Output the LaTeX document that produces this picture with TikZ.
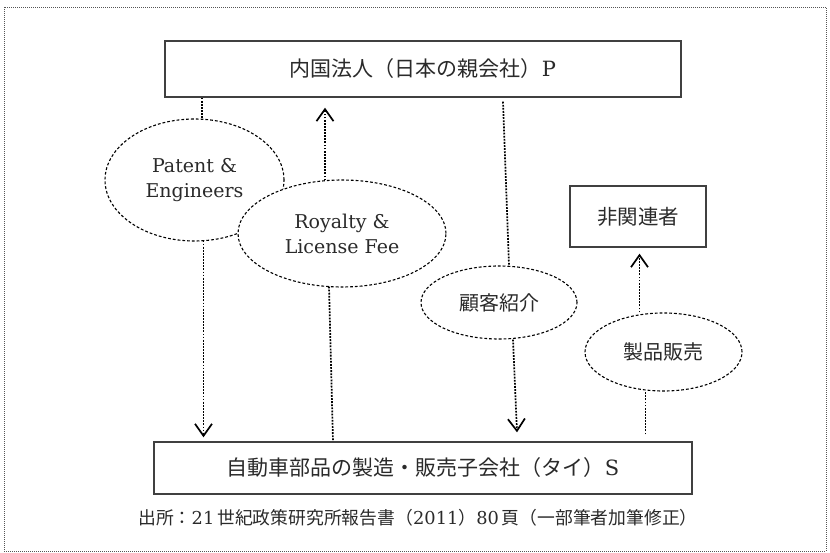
\documentclass[tikz,border=0pt]{standalone}
\usepackage{fontspec}
\setmainfont{DejaVu Serif}
\newfontfamily\cjk{Noto Sans CJK JP}
\usetikzlibrary{arrows.meta,calc,shapes.geometric}
\definecolor{ink}{HTML}{2A2A2A}
\definecolor{boxline}{HTML}{404040}
\tikzset{
  box/.style={draw=boxline,line width=1.4pt,fill=white,inner sep=0pt,text=ink,
    font=\fontsize{21}{24}\selectfont},
  bubble/.style={ellipse,draw=black,line width=1.1pt,dash pattern=on 2.8pt off 2pt,
    fill=white,inner sep=0pt,text=ink,align=center,font=\fontsize{19}{25}\selectfont},
  conn/.style={draw=black,line width=1.7pt,dash pattern=on 1.8pt off 1.3pt},
  tip/.style={-{Straight Barb[length=12pt,width=17pt,line width=1.7pt]}},
  frame/.style={draw=ink!80,line width=0.7pt,dash pattern=on 1pt off 1pt}
}
\begin{document}
\begin{tikzpicture}[x=1pt,y=-1pt]
\useasboundingbox (0,0) rectangle (830,553);
\draw[frame] (4,7) rectangle (826,551);

\node[box,minimum width=516pt,minimum height=56pt] (P) at (423,69) {{\cjk 内国法人（日本の親会社）}P};
\node[box,minimum width=136pt,minimum height=61pt,font=\fontsize{20.5}{24}\selectfont] (nr) at (638,216.5) {\cjk 非関連者};
\node[box,minimum width=538pt,minimum height=52pt] (S) at (423,468) {{\cjk 自動車部品の製造・販売子会社（タイ）}S};

\node[bubble,minimum width=179pt,minimum height=122pt] (pat) at (194.5,180) {Patent \&\\Engineers};
\node[bubble,minimum width=208pt,minimum height=107pt] (roy) at (342,233.5) {Royalty \&\\License Fee};
\node[bubble,minimum width=156pt,minimum height=73pt,font=\fontsize{20}{24}\selectfont\cjk] (cust) at (499,302.5) {顧客紹介};
\node[bubble,minimum width=157pt,minimum height=78pt,font=\fontsize{20}{24}\selectfont\cjk] (sale) at (663.5,352) {製品販売};

\node[text=ink,font=\fontsize{17.8}{20}\selectfont,anchor=center] (cap) at (418,518)
  {{\cjk 出所：}21\,{\cjk 世紀政策研究所報告書（}2011{\cjk ）}80\,{\cjk 頁（一部筆者加筆修正）}};

\coordinate (X1) at (202,0);
\coordinate (X1b) at (203.5,0);
\coordinate (X2) at (325,0);
\coordinate (X3a) at (329,0);
\coordinate (X3b) at (333,0);
\coordinate (X4a) at (503,0);
\coordinate (X4b) at (509,0);
\coordinate (X5a) at (513,0);
\coordinate (X5b) at (517,0);
\coordinate (X6) at (639.5,0);
\coordinate (X7) at (645.5,0);

\draw[conn] (P.south -| X1) -- ($(pat.north -| X1)+(0,1)$);
\draw[conn,tip] ($(pat.south -| X1b)+(0,-1)$) -- ($(S.north -| X1b)+(0,-4)$);
\draw[conn,tip] ($(roy.north -| X2)+(0,1)$) -- ($(P.south -| X2)+(0,10)$);
\draw[conn] ($(roy.south -| X3a)+(0,-1)$) -- (S.north -| X3b);
\draw[conn] ($(P.south -| X4a)+(0,4)$) -- (cust.north -| X4b);
\draw[conn,tip] (cust.south -| X5a) -- ($(S.north -| X5b)+(0,-9)$);
\draw[conn,tip] (sale.north -| X6) -- ($(nr.south -| X6)+(0,6)$);
\draw[conn] ($(S.north -| X7)+(0,-7)$) -- (sale.south -| X7);
\end{tikzpicture}
\end{document}
